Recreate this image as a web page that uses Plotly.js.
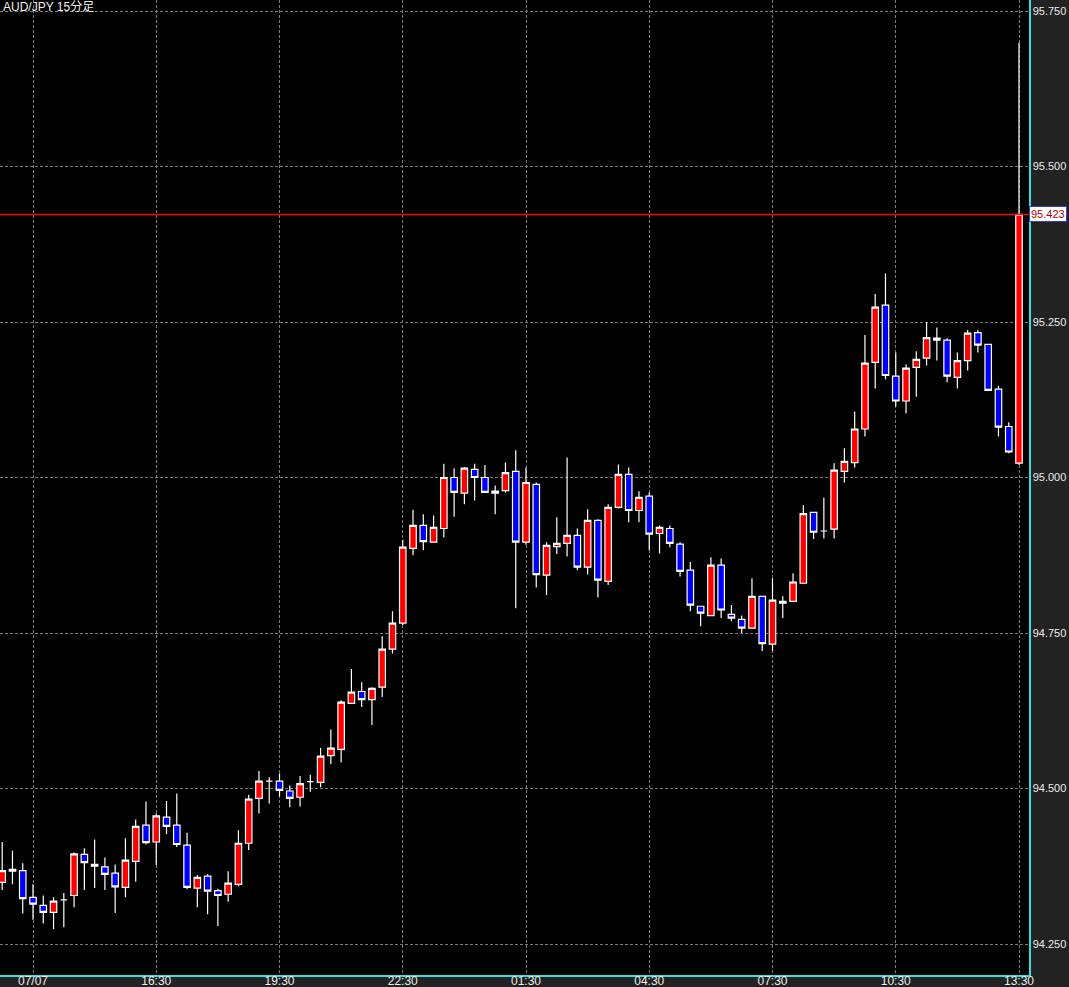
<!DOCTYPE html>
<html>
<head>
<meta charset="utf-8">
<script src="https://cdn.plot.ly/plotly-3.0.1.min.js"></script>
<style>
html,body{margin:0;padding:0;background:#222222;}
#chart{width:1069px;height:987px;}
</style>
</head>
<body>
<div id="chart"></div>
<script>
// ---- data (AUD/JPY 15-minute candles, 2025-07-07 12:45 .. 2025-07-08 13:30) ----
const startTime = '2025-07-07T12:45:00';
const stepMinutes = 15;

const openPrices = [
94.349,94.367,94.368,94.325,94.312,94.301,94.321,94.328,94.394,94.378,
94.374,94.364,94.341,94.383,94.441,94.414,94.454,94.441,94.409,94.340,
94.359,94.336,94.330,94.346,94.412,94.484,94.512,94.512,94.496,94.486,
94.511,94.510,94.553,94.563,94.637,94.656,94.643,94.663,94.724,94.766,
94.886,94.923,94.896,94.918,95.000,94.975,95.013,95.000,94.975,94.979,
95.010,94.896,94.989,94.843,94.889,94.894,94.907,94.856,94.931,94.833,
94.952,95.005,94.947,94.970,94.910,94.918,94.893,94.851,94.793,94.778,
94.859,94.780,94.772,94.758,94.809,94.732,94.801,94.801,94.830,94.944,
94.914,94.917,95.010,95.024,95.078,95.185,95.277,95.163,95.123,95.177,
95.192,95.224,95.221,95.161,95.188,95.233,95.214,95.142,95.082,95.023];

const highPrices = [
94.414,94.400,94.380,94.346,94.328,94.325,94.332,94.397,94.404,94.418,
94.389,94.378,94.420,94.450,94.479,94.460,94.480,94.492,94.429,94.361,
94.362,94.339,94.367,94.433,94.490,94.528,94.518,94.524,94.505,94.520,
94.522,94.565,94.595,94.642,94.692,94.671,94.663,94.745,94.785,94.900,
94.948,94.941,94.939,95.022,95.015,95.017,95.022,95.020,94.987,95.024,
95.044,95.016,94.992,94.896,94.936,95.032,94.918,94.949,94.933,94.957,
95.021,95.016,94.978,94.976,94.923,94.923,94.896,94.864,94.794,94.872,
94.870,94.795,94.778,94.838,94.810,94.838,94.809,94.846,94.956,94.945,
94.968,95.023,95.047,95.106,95.229,95.295,95.328,95.201,95.182,95.203,
95.250,95.241,95.224,95.201,95.237,95.237,95.215,95.147,95.089,95.699];

const lowPrices = [
94.337,94.346,94.299,94.289,94.283,94.274,94.277,94.309,94.337,94.340,
94.337,94.300,94.325,94.350,94.410,94.377,94.427,94.406,94.338,94.309,
94.298,94.279,94.318,94.343,94.401,94.460,94.476,94.487,94.470,94.471,
94.495,94.502,94.539,94.542,94.636,94.631,94.602,94.647,94.717,94.763,
94.875,94.883,94.895,94.904,94.937,94.957,94.963,94.975,94.941,94.976,
94.790,94.892,94.823,94.811,94.877,94.873,94.851,94.844,94.807,94.827,
94.950,94.928,94.928,94.883,94.878,94.888,94.841,94.785,94.761,94.777,
94.774,94.769,94.750,94.757,94.721,94.721,94.774,94.800,94.829,94.901,
94.902,94.902,94.992,95.016,95.066,95.143,95.158,95.114,95.103,95.130,
95.180,95.188,95.153,95.143,95.172,95.201,95.139,95.066,95.039,95.020];

const closePrices = [
94.368,94.370,94.323,94.314,94.301,94.319,94.321,94.395,94.381,94.375,
94.362,94.342,94.385,94.439,94.413,94.456,94.439,94.410,94.341,94.357,
94.335,94.328,94.348,94.412,94.483,94.512,94.512,94.497,94.484,94.508,
94.511,94.552,94.565,94.639,94.655,94.643,94.661,94.724,94.766,94.888,
94.923,94.897,94.920,95.000,94.976,95.015,95.000,94.976,94.978,95.008,
94.896,94.992,94.844,94.891,94.894,94.907,94.856,94.931,94.835,94.952,
95.005,94.947,94.968,94.909,94.920,94.894,94.849,94.795,94.782,94.859,
94.787,94.774,94.758,94.809,94.733,94.803,94.798,94.832,94.942,94.912,
94.914,95.012,95.026,95.078,95.184,95.274,95.164,95.123,95.176,95.190,
95.225,95.221,95.163,95.188,95.232,95.213,95.140,95.081,95.041,95.423];

const tickTimes = ['2025-07-07 13:30','2025-07-07 16:30','2025-07-07 19:30','2025-07-07 22:30',
                   '2025-07-08 01:30','2025-07-08 04:30','2025-07-08 07:30','2025-07-08 10:30','2025-07-08 13:30'];
const tickLabels = ['07/07','16:30','19:30','22:30','01:30','04:30','07:30','10:30','13:30'];
const priceTicks = [94.25, 94.50, 94.75, 95.00, 95.25, 95.50, 95.75];
const chartTitle = 'AUD/JPY 15分足';

// ---- build time axis for each candle ----
function pad(n){return (n<10?'0':'')+n;}
const t0 = new Date(startTime + 'Z').getTime();
const times = openPrices.map((_, i) => {
  const d = new Date(t0 + i*stepMinutes*60000);
  return d.getUTCFullYear()+'-'+pad(d.getUTCMonth()+1)+'-'+pad(d.getUTCDate())+' '+pad(d.getUTCHours())+':'+pad(d.getUTCMinutes());
});
const lastPrice = closePrices[closePrices.length-1];

const trace = {
  type: 'candlestick',
  x: times,
  open: openPrices, high: highPrices, low: lowPrices, close: closePrices,
  increasing: {line: {color: '#ffffff', width: 1.2}, fillcolor: '#ff0000'},
  decreasing: {line: {color: '#ffffff', width: 1.2}, fillcolor: '#0000ff'},
  whiskerwidth: 0,
  hoverinfo: 'skip'
};

const font = 'Liberation Sans, Arial, Noto Sans CJK JP, sans-serif';

const layout = {
  width: 1069, height: 987,
  margin: {l: 0, r: 40, t: 0, b: 12, pad: 0},
  paper_bgcolor: '#222222',
  plot_bgcolor: '#000000',
  showlegend: false,
  hovermode: false,
  boxgap: 0.1,
  xaxis: {
    type: 'date',
    range: ['2025-07-07 12:41:48', '2025-07-08 13:44:36'],
    rangeslider: {visible: false},
    tickmode: 'array', tickvals: tickTimes, ticktext: tickLabels,
    ticks: '', ticklen: 0,
    ticklabelstandoff: -6,
    showgrid: true, gridcolor: '#7a7a7a', gridwidth: 1, griddash: '3px,2px',
    zeroline: false,
    showline: true, linecolor: '#33dede', linewidth: 1.5,
    tickfont: {family: font, size: 12, color: '#ececec'},
    fixedrange: true
  },
  yaxis: {
    side: 'right',
    range: [94.2002, 95.7677],
    tickmode: 'array', tickvals: priceTicks,
    ticktext: priceTicks.map(v => v.toFixed(3)),
    ticks: '', ticklen: 0,
    showgrid: true, gridcolor: '#7a7a7a', gridwidth: 1, griddash: '3px,2px',
    zeroline: false,
    showline: true, linecolor: '#33dede', linewidth: 1.5,
    tickfont: {family: font, size: 11, color: '#ececec'},
    fixedrange: true
  },
  shapes: [{
    type: 'line', xref: 'paper', x0: 0, x1: 1, yref: 'y', y0: lastPrice, y1: lastPrice,
    line: {color: '#ff0000', width: 1.5}
  }],
  annotations: [
    {
      xref: 'paper', x: 1, xanchor: 'left', yref: 'y', y: lastPrice, yanchor: 'middle',
      text: lastPrice.toFixed(3), showarrow: false,
      bgcolor: '#ffffff', bordercolor: '#3a3ad0', borderwidth: 1, borderpad: 1,
      font: {family: font, size: 11, color: '#b00000'}
    },
    {
      xref: 'paper', x: 0, xanchor: 'left', xshift: 1, yref: 'paper', y: 1, yanchor: 'top', yshift: 2,
      text: chartTitle, showarrow: false,
      font: {family: font, size: 12, color: '#f0f0f0'}
    }
  ]
};

Plotly.newPlot('chart', [trace], layout, {displayModeBar: false, staticPlot: true});
</script>
</body>
</html>
